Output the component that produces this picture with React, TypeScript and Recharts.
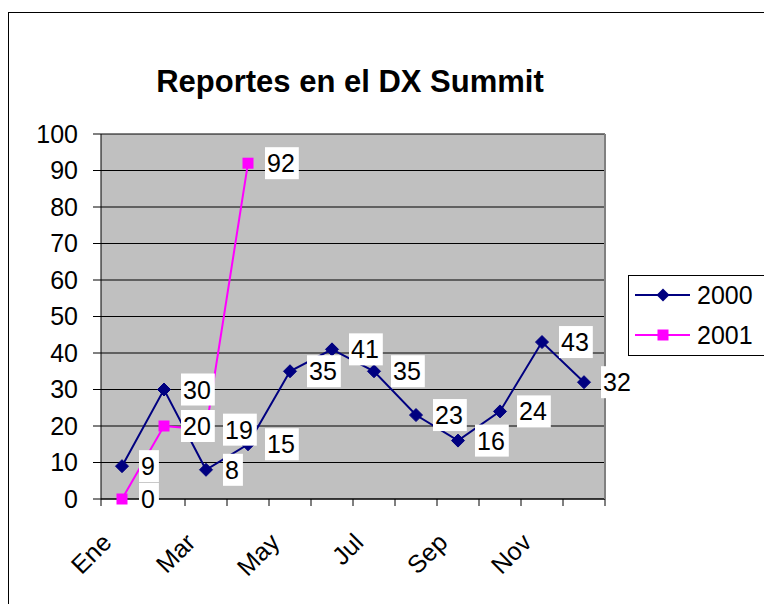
import React from "react";
import { LineChart, Line, XAxis, YAxis, CartesianGrid, LabelList } from "recharts";

const months = ["Ene", "Feb", "Mar", "Abr", "May", "Jun", "Jul", "Ago", "Sep", "Oct", "Nov", "Dic"];
const reports2000 = [9, 30, 8, 15, 35, 41, 35, 23, 16, 24, 43, 32];
const reports2001 = [0, 20, 19, 92, null, null, null, null, null, null, null, null];
const yTicks = [0, 10, 20, 30, 40, 50, 60, 70, 80, 90, 100];

const NAVY = "#000080";
const PINK = "#FF00FF";
const FONT = "'Liberation Sans', Arial, sans-serif";
const FS = 25;
const HALF_STEP = 21; // half the category band, same as the axis padding

const data = months.map((m, i) => ({ month: m, y2000: reports2000[i], y2001: reports2001[i] }));

const Diamond = (props: any) => {
  const { cx, cy, index } = props;
  if (cx == null || cy == null) return <g key={`dm-${index}`} />;
  const r = 6.5;
  return (
    <path
      key={`dm-${index}`}
      d={`M${cx},${cy - r}L${cx + r},${cy}L${cx},${cy + r}L${cx - r},${cy}Z`}
      fill={NAVY}
      stroke={NAVY}
    />
  );
};

const Square = (props: any) => {
  const { cx, cy, index, value } = props;
  if (cx == null || cy == null || value == null) return <g key={`sq-${index}`} />;
  const s = 11;
  return <rect key={`sq-${index}`} x={cx - s / 2} y={cy - s / 2} width={s} height={s} fill={PINK} />;
};

const BoxLabel = (props: any) => {
  const { x, y, value } = props;
  if (value == null || x == null || y == null) return null;
  const w = String(value).length * 13.9 + 6;
  return (
    <g>
      <rect x={x + 17} y={y - 16} width={w} height={32} fill="#fff" />
      <text x={x + 19} y={y} dy="0.36em" fontSize={FS} fontFamily={FONT} fill="#000">
        {value}
      </text>
    </g>
  );
};

// tick marks sit between categories (Excel style), labels on every other month
const MonthTick = (props: any) => {
  const { x, y, payload, index } = props;
  const ax = x - 9;
  const ay = y + 45;
  const isLast = index === months.length - 1;
  return (
    <g>
      <line x1={x - HALF_STEP} y1={y} x2={x - HALF_STEP} y2={y + 7} stroke="#000" />
      {isLast && <line x1={x + HALF_STEP} y1={y} x2={x + HALF_STEP} y2={y + 7} stroke="#000" />}
      {index % 2 === 0 && (
        <text
          x={ax}
          y={ay}
          transform={`rotate(-45, ${ax}, ${ay})`}
          textAnchor="end"
          fontSize={FS}
          fontFamily={FONT}
          fill="#000"
        >
          {payload.value}
        </text>
      )}
    </g>
  );
};

const LegendRow = ({ top, color, marker, label }: any) => (
  <div style={{ position: "absolute", left: 6, top: top - 14, height: 28, display: "flex", alignItems: "center" }}>
    <svg width={56} height={16} style={{ display: "block" }}>
      <line x1={0} y1={8} x2={55} y2={8} stroke={color} strokeWidth={2} />
      {marker === "diamond" ? (
        <path d="M28,1.5L34.5,8L28,14.5L21.5,8Z" fill={color} />
      ) : (
        <rect x={22.5} y={2.5} width={11} height={11} fill={color} />
      )}
    </svg>
    <span style={{ marginLeft: 6, fontSize: FS, fontFamily: FONT, color: "#000", lineHeight: "28px" }}>{label}</span>
  </div>
);

const App = () => {
  return (
    <div
      style={{
        position: "fixed",
        left: 0,
        top: 0,
        width: 764,
        height: 604,
        overflow: "hidden",
        background: "#fff",
        fontFamily: FONT,
      }}
    >
      <div
        style={{
          position: "absolute",
          left: 8,
          top: 12,
          width: 820,
          height: 700,
          border: "1px solid #000",
        }}
      />
      <div
        style={{
          position: "absolute",
          left: 0,
          top: 66,
          width: 700,
          textAlign: "center",
          fontSize: 31,
          fontWeight: "bold",
          lineHeight: "31px",
          fontFamily: FONT,
        }}
      >
        Reportes en el DX Summit
      </div>
      <div style={{ position: "absolute", left: 0, top: 0 }}>
        <LineChart width={764} height={604} data={data} margin={{ top: 134, right: 158, bottom: 0, left: 0 }}>
          <CartesianGrid vertical={false} horizontal stroke="#000" fill="#C0C0C0" fillOpacity={1} />
          <XAxis
            dataKey="month"
            height={105}
            interval={0}
            padding={{ left: HALF_STEP, right: HALF_STEP }}
            axisLine={{ stroke: "#000" }}
            tickLine={false}
            tickSize={0}
            tickMargin={0}
            tick={<MonthTick />}
          />
          <YAxis
            width={101}
            domain={[0, 100]}
            ticks={yTicks}
            interval={0}
            tickSize={8}
            tickMargin={15}
            axisLine={{ stroke: "#000" }}
            tickLine={{ stroke: "#000" }}
            tick={{ fontSize: FS, fill: "#000", fontFamily: FONT }}
          />
          <YAxis
            yAxisId="frame"
            orientation="right"
            width={1}
            domain={[0, 100]}
            tick={false}
            tickLine={false}
            axisLine={{ stroke: "#808080", strokeWidth: 2 }}
          />
          <Line
            dataKey="y2000"
            stroke={NAVY}
            strokeWidth={2}
            dot={(p: any) => <Diamond {...p} />}
            activeDot={false}
            isAnimationActive={false}
          />
          <Line
            dataKey="y2001"
            stroke={PINK}
            strokeWidth={2}
            dot={(p: any) => <Square {...p} />}
            activeDot={false}
            isAnimationActive={false}
          />
          <Line dataKey="y2000" stroke="none" dot={false} activeDot={false} isAnimationActive={false}>
            <LabelList dataKey="y2000" content={<BoxLabel />} />
          </Line>
          <Line dataKey="y2001" stroke="none" dot={false} activeDot={false} isAnimationActive={false}>
            <LabelList dataKey="y2001" content={<BoxLabel />} />
          </Line>
        </LineChart>
      </div>
      <div
        style={{
          position: "absolute",
          left: 628,
          top: 275,
          width: 200,
          height: 79,
          border: "1px solid #000",
          background: "#fff",
        }}
      >
        <LegendRow top={19} color={NAVY} marker="diamond" label="2000" />
        <LegendRow top={59} color={PINK} marker="square" label="2001" />
      </div>
    </div>
  );
};

export default App;
